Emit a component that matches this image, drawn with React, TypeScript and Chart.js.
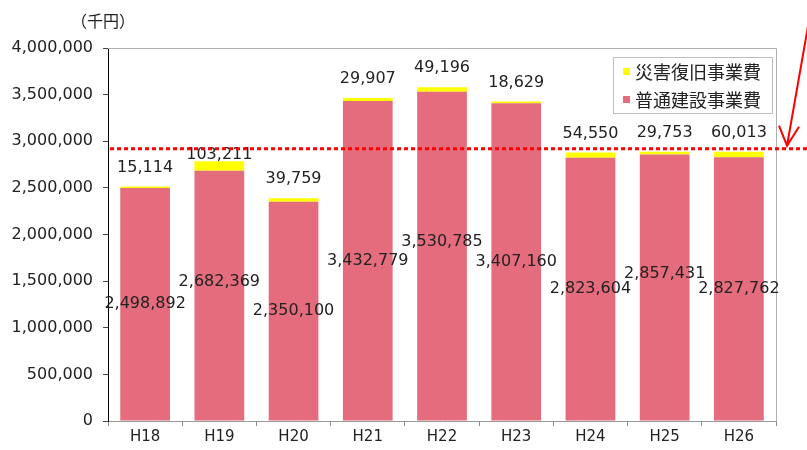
import React, { useEffect, useRef } from "react";
import { Chart, registerables } from "chart.js";

Chart.register(...registerables);

const categories = ["H18", "H19", "H20", "H21", "H22", "H23", "H24", "H25", "H26"];
const generalWorks = [2498892, 2682369, 2350100, 3432779, 3530785, 3407160, 2823604, 2857431, 2827762];
const disasterWorks = [15114, 103211, 39759, 29907, 49196, 18629, 54550, 29753, 60013];
const seriesNames = ["普通建設事業費", "災害復旧事業費"];
const referenceLevel = 2920000;
const unitLabel = "（千円）";

const PINK = "rgb(229,108,125)";
const YELLOW = "#FFFF00";
const NUM_FONT = "16px 'DejaVu Sans'";
const CJK = "'Noto Sans CJK JP'";

const fmt = (v: number) => v.toLocaleString("en-US");

const overlayPlugin = {
  id: "overlay",
  afterDatasetsDraw(chart: any) {
    const { ctx, chartArea, scales } = chart;
    const yS = scales.y;
    ctx.save();
    // plot border top/right
    ctx.strokeStyle = "#b0b0b0";
    ctx.lineWidth = 1;
    ctx.beginPath();
    ctx.moveTo(chartArea.left, Math.round(chartArea.top) + 0.5);
    ctx.lineTo(Math.round(chartArea.right) + 0.5, Math.round(chartArea.top) + 0.5);
    ctx.lineTo(Math.round(chartArea.right) + 0.5, chartArea.bottom);
    ctx.stroke();

    // data labels
    const m0 = chart.getDatasetMeta(0);
    const m1 = chart.getDatasetMeta(1);
    ctx.font = NUM_FONT;
    ctx.fillStyle = "#222";
    ctx.textAlign = "center";
    ctx.textBaseline = "middle";
    m0.data.forEach((bar: any, i: number) => {
      const shift = i % 3 === 1 ? -14 : 0;
      ctx.fillText(fmt(generalWorks[i]), bar.x, (bar.y + bar.base) / 2 + shift);
    });
    m1.data.forEach((bar: any, i: number) => {
      const lift = i === 1 ? 6 : 19;
      ctx.fillText(fmt(disasterWorks[i]), bar.x, bar.y - lift);
    });

    // reference dotted line
    const yRef = yS.getPixelForValue(referenceLevel);
    ctx.strokeStyle = "#FF0000";
    ctx.lineWidth = 3;
    ctx.setLineDash([4, 3]);
    ctx.beginPath();
    ctx.moveTo(chartArea.left + 2, yRef);
    ctx.lineTo(chart.width, yRef);
    ctx.stroke();
    ctx.setLineDash([]);

    // arrow
    const tipX = chartArea.right + 11;
    const tipY = yRef - 3;
    ctx.lineWidth = 2;
    ctx.beginPath();
    ctx.moveTo(tipX + 22, tipY - 125);
    ctx.lineTo(tipX, tipY);
    ctx.moveTo(tipX - 8, tipY - 20);
    ctx.lineTo(tipX, tipY);
    ctx.lineTo(tipX + 12, tipY - 19);
    ctx.stroke();

    // legend
    const bw = 159, bh = 56;
    const bx = Math.round(chartArea.right) - 4 - bw;
    const by = Math.round(chartArea.top) + 9;
    ctx.fillStyle = "#fff";
    ctx.fillRect(bx, by, bw, bh);
    ctx.strokeStyle = "#bdbdbd";
    ctx.lineWidth = 1;
    ctx.strokeRect(bx + 0.5, by + 0.5, bw, bh);
    const items = [
      { name: seriesNames[1], color: YELLOW },
      { name: seriesNames[0], color: PINK },
    ];
    ctx.font = `18px ${CJK}`;
    ctx.textAlign = "left";
    items.forEach((it, k) => {
      const cy = by + 15 + k * 28;
      ctx.fillStyle = it.color;
      ctx.fillRect(bx + 10, cy - 4, 7, 7);
      ctx.fillStyle = "#222";
      ctx.fillText(it.name, bx + 22, cy);
    });

    // unit label
    ctx.font = `16px ${CJK}`;
    ctx.textAlign = "center";
    ctx.fillStyle = "#222";
    ctx.fillText(unitLabel, chartArea.left - 5, 21);
    ctx.restore();
  },
};

export default function App() {
  const ref = useRef<HTMLCanvasElement>(null);
  useEffect(() => {
    if (!ref.current) return;
    const chart = new Chart(ref.current, {
      type: "bar",
      data: {
        labels: categories,
        datasets: [
          { label: seriesNames[0], data: generalWorks, backgroundColor: PINK, stack: "s" },
          { label: seriesNames[1], data: disasterWorks, backgroundColor: YELLOW, stack: "s" },
        ],
      },
      options: {
        animation: false,
        responsive: true,
        maintainAspectRatio: false,
        layout: { padding: { top: 48, right: 31, left: 0, bottom: 0 } },
        plugins: { legend: { display: false }, tooltip: { enabled: false } },
        datasets: { bar: { barPercentage: 0.67, categoryPercentage: 1 } },
        scales: {
          x: {
            stacked: true,
            afterFit: (s: any) => { s.height = 29; },
            grid: { drawOnChartArea: false, drawTicks: true, tickLength: 5, color: "#888", offset: true },
            border: { color: "#999" },
            ticks: { font: { family: "DejaVu Sans", size: 15 }, color: "#222", padding: 2 },
          },
          y: {
            stacked: true,
            min: 0,
            max: 4000000,
            afterFit: (s: any) => { s.width = 108; },
            grid: { drawOnChartArea: false, drawTicks: true, tickLength: 5, color: "#444" },
            border: { color: "#000", dash: [2, 2] },
            ticks: {
              stepSize: 500000,
              font: { family: "DejaVu Sans", size: 16 },
              color: "#222",
              padding: 10,
              callback: (v: any) => fmt(Number(v)),
            },
          },
        },
      },
      plugins: [overlayPlugin],
    });
    return () => chart.destroy();
  }, []);
  return (
    <div style={{ position: "absolute", left: 0, top: 0, width: 807, height: 450, background: "#fff" }}>
      <canvas ref={ref} />
    </div>
  );
}
